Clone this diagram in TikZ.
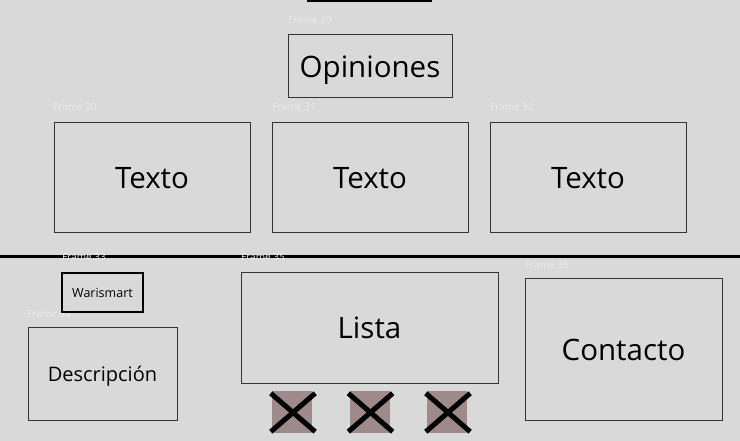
\documentclass[tikz,border=0pt]{standalone}
\usepackage{fontspec}
\setmainfont{Open Sans}
\definecolor{bg}{HTML}{D9D9D9}
\definecolor{flab}{HTML}{EBEBEB}
\definecolor{edge}{HTML}{333333}
\definecolor{sq}{HTML}{9E8A8A}
\tikzset{
  box/.style={draw=edge, line width=1pt, inner sep=0pt, align=center, text depth=0pt},
  flabel/.style={anchor=base west, inner sep=0pt, text=flab, font=\fontsize{10}{11}\selectfont},
  bigtxt/.style={font=\fontsize{29.5}{33}\selectfont},
  sqbox/.style={fill=sq, minimum width=40pt, minimum height=42pt, inner sep=0pt},
  xline/.style={line width=5pt}
}
\begin{document}
\begin{tikzpicture}[x=1pt,y=-1pt]
\fill[bg] (0,0) rectangle (740,441);
\useasboundingbox (0,0) rectangle (740,441);
% top stub and divider
\coordinate (t1) at (307,0.8);
\coordinate (t2) at (432,0.8);
\draw[line width=1.6pt] (t1) -- (t2);
\coordinate (d1) at (0,256.5);
\coordinate (d2) at (740,256.5);
\draw[line width=3pt] (d1) -- (d2);
% frame labels
\node[flabel] (f29) at (288,23.5) {Frame 29};
\node[flabel] (f30) at (53,111) {Frame 30};
\node[flabel] (f31) at (272,111) {Frame 31};
\node[flabel] (f32) at (490,111) {Frame 32};
\node[flabel] (f33) at (62,261) {Frame 33};
\node[flabel] (f34) at (27,317) {Frame 34};
\node[flabel] (f35) at (241,261) {Frame 35};
\node[flabel] (f36) at (525,269) {Frame 36};
% boxes
\node[box, bigtxt, minimum width=164pt, minimum height=63pt] (op) at (370,66.5) {Opiniones};
\node[box, bigtxt, minimum width=196pt, minimum height=110pt] (t30) at (152,178) {Texto};
\node[box, bigtxt, minimum width=196pt, minimum height=110pt] (t31) at (370,178) {Texto};
\node[box, bigtxt, minimum width=196pt, minimum height=110pt] (t32) at (588,178) {Texto};
\node[box, draw=black, line width=2pt, minimum width=81pt, minimum height=39pt, font=\fontsize{12.5}{14}\selectfont] (wa) at (102.5,292.5) {Warismart};
\node[box, minimum width=149pt, minimum height=93pt, font=\fontsize{20}{22}\selectfont] (de) at (102.5,373.5) {Descripción};
\node[box, bigtxt, minimum width=257pt, minimum height=110pt] (li) at (369.5,328) {Lista};
\node[box, bigtxt, minimum width=197pt, minimum height=141pt] (co) at (623.5,349.5) {Contacto};
% crossed squares
\foreach \n/\cx in {s1/292, s2/369.5, s3/447} {
  \node[sqbox] (\n) at (\cx,411.5) {};
  \draw[xline] ([shift={(-1pt,-3pt)}]\n.north west) -- ([shift={(3pt,1pt)}]\n.south east);
  \draw[xline] ([shift={(3pt,-3pt)}]\n.north east) -- ([shift={(-1pt,1pt)}]\n.south west);
}
\end{tikzpicture}
\end{document}
